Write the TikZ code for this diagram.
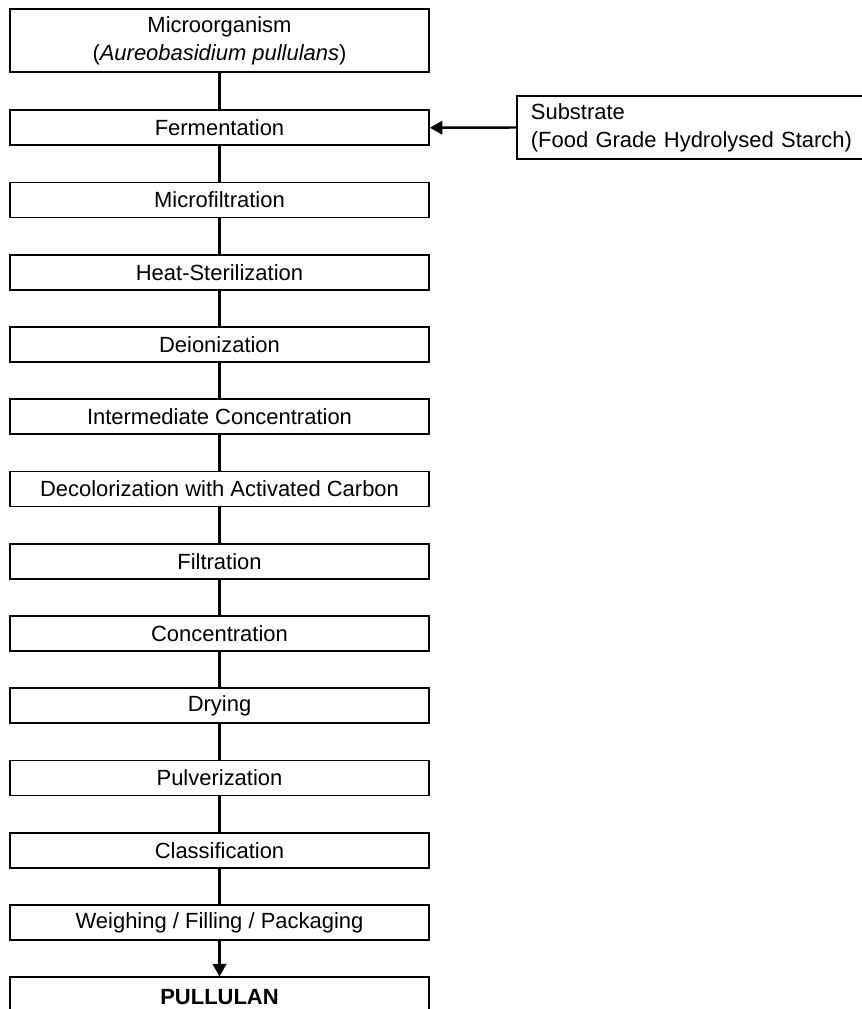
\documentclass[tikz,border=0pt]{standalone}
\usepackage{fontspec}
\setmainfont{Liberation Sans}
\usetikzlibrary{positioning,arrows.meta}
\begin{document}
\begin{tikzpicture}[node distance=0.71cm,
  stage/.style={draw, line width=1pt, minimum width=8.38cm, minimum height=0.7cm,
    inner sep=0pt, align=center, font=\fontsize{12.5}{16}\selectfont},
  link/.style={line width=1.4pt},
  feed/.style={line width=1.4pt, -{Triangle[length=0.25cm,width=0.27cm]}}]
  \useasboundingbox (0,0) rectangle (17.22,-20.18);
  \node[stage, minimum height=1.26cm] (micro) at (4.39,-0.81) {Microorganism\\(\textit{Aureobasidium pullulans})};
  \node[stage, below=0.73cm of micro] (ferm) {Fermentation};
  \node[stage, below=of ferm] (mfilt) {Microfiltration};
  \node[stage, below=of mfilt] (heat) {Heat-Sterilization};
  \node[stage, below=of heat] (deion) {Deionization};
  \node[stage, below=of deion] (inter) {Intermediate Concentration};
  \node[stage, below=of inter] (decol) {Decolorization with Activated Carbon};
  \node[stage, below=of decol] (filt) {Filtration};
  \node[stage, below=of filt] (conc) {Concentration};
  \node[stage, below=of conc] (dry) {Drying};
  \node[stage, below=of dry] (pulv) {Pulverization};
  \node[stage, below=of pulv] (class) {Classification};
  \node[stage, below=of class] (weigh) {Weighing / Filling / Packaging};
  \node[stage, below=of weigh, minimum height=0.78cm, font=\fontsize{12.5}{16}\selectfont\bfseries] (pull) {PULLULAN};
  \node[draw, line width=1pt, anchor=west, minimum height=1.26cm, text width=6.5cm,
    inner xsep=0.28cm, align=left, font=\fontsize{12.5}{16}\selectfont] (sub) at (10.32,-2.55)
    {Substrate\\(Food Grade Hydrolysed Starch)};

  \draw[link] (micro) -- (ferm) (ferm) -- (mfilt) (mfilt) -- (heat) (heat) -- (deion)
    (deion) -- (inter) (inter) -- (decol) (decol) -- (filt) (filt) -- (conc)
    (conc) -- (dry) (dry) -- (pulv) (pulv) -- (class) (class) -- (weigh);
  \draw[feed] (weigh) -- (pull);
  \draw[feed] (sub.west) -- (ferm.east);
\end{tikzpicture}
\end{document}
